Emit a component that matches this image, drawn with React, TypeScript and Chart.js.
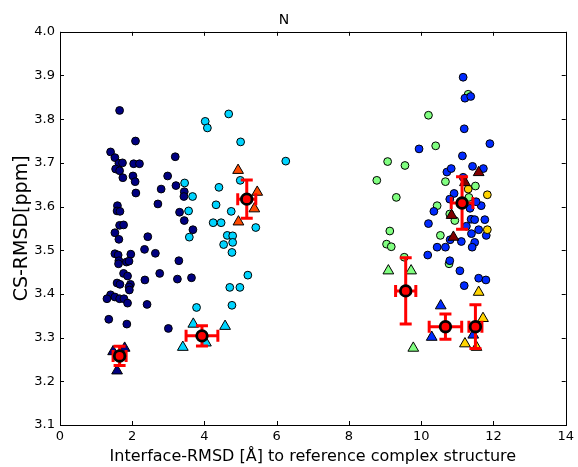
import { useEffect, useRef } from "react";
import { Chart, registerables } from "chart.js";

Chart.register(...registerables);

type P = [number, number];

const xTicks = [0, 2, 4, 6, 8, 10, 12, 14];
const yTicks = [3.1, 3.2, 3.3, 3.4, 3.5, 3.6, 3.7, 3.8, 3.9, 4.0];

const navyCircles: P[] = [
  [1.65, 3.82], [2.09, 3.75], [1.4, 3.725], [1.52, 3.712], [1.63, 3.699], [1.73, 3.7], [1.54, 3.686],
  [1.65, 3.682], [1.74, 3.666], [2.04, 3.698], [2.2, 3.698], [2.02, 3.67], [2.08, 3.657], [2.1, 3.631],
  [3.19, 3.714], [2.98, 3.67], [3.21, 3.648], [2.8, 3.64], [2.71, 3.606], [3.31, 3.587], [1.59, 3.602],
  [1.58, 3.59], [1.66, 3.589], [1.65, 3.557], [1.76, 3.558], [1.52, 3.54], [1.63, 3.525], [2.43, 3.531],
  [2.34, 3.502], [2.64, 3.493], [1.52, 3.492], [1.61, 3.489], [1.96, 3.491], [1.63, 3.476], [1.84, 3.473],
  [1.91, 3.475], [1.62, 3.469], [3.29, 3.476], [1.76, 3.447], [1.87, 3.441], [2.76, 3.447], [2.35, 3.432],
  [3.25, 3.434], [1.58, 3.425], [1.66, 3.422], [1.95, 3.422], [1.91, 3.416], [1.92, 3.409], [1.4, 3.398],
  [1.3, 3.389], [1.52, 3.393], [1.65, 3.389], [1.77, 3.389], [1.87, 3.379], [2.41, 3.376], [1.35, 3.342],
  [1.85, 3.331], [3.0, 3.321], [3.44, 3.634], [3.43, 3.623], [3.44, 3.568], [3.68, 3.547], [3.64, 3.437],
];
const navyTriangles: P[] = [[1.47, 3.268], [1.79, 3.276], [1.58, 3.224]];

const cyanCircles: P[] = [
  [4.67, 3.812], [4.02, 3.795], [4.08, 3.78], [5.0, 3.748], [6.25, 3.704], [4.99, 3.66], [3.45, 3.654],
  [4.4, 3.644], [3.67, 3.623], [4.32, 3.604], [3.56, 3.59], [4.74, 3.589], [4.24, 3.563], [4.46, 3.563],
  [5.42, 3.552], [3.58, 3.53], [4.63, 3.534], [4.78, 3.533], [4.53, 3.513], [4.78, 3.518], [4.76, 3.495],
  [5.2, 3.443], [4.7, 3.415], [4.98, 3.415], [3.78, 3.369], [4.76, 3.374],
];
const cyanTriangles: P[] = [[3.69, 3.331], [4.57, 3.326], [3.4, 3.278], [4.04, 3.288]];

const orangeTriangles: P[] = [[4.93, 3.683], [5.46, 3.633], [5.38, 3.595], [4.94, 3.565]];

const greenCircles: P[] = [
  [11.3, 3.857], [10.2, 3.809], [10.4, 3.739], [9.07, 3.703], [9.55, 3.694], [8.77, 3.66], [10.67, 3.657],
  [11.5, 3.647], [9.31, 3.621], [10.44, 3.602], [10.79, 3.583], [10.93, 3.568], [9.13, 3.544], [10.53, 3.534],
  [9.04, 3.514], [9.17, 3.508], [9.53, 3.484], [10.77, 3.469], [11.32, 3.621],
];
const greenTriangles: P[] = [[9.09, 3.453], [9.72, 3.453], [9.78, 3.276]];

const blueCircles: P[] = [
  [11.16, 3.896], [11.21, 3.848], [11.37, 3.852], [11.19, 3.778], [11.9, 3.744], [9.94, 3.732], [11.14, 3.716],
  [10.71, 3.679], [10.83, 3.687], [11.42, 3.692], [11.72, 3.687], [11.16, 3.667], [10.91, 3.63], [10.35, 3.589],
  [10.2, 3.561], [11.66, 3.602], [11.52, 3.611], [11.38, 3.571], [11.48, 3.57], [11.76, 3.57], [11.59, 3.547],
  [11.8, 3.534], [11.39, 3.538], [11.48, 3.518], [11.41, 3.507], [11.11, 3.52], [10.8, 3.524], [10.44, 3.507],
  [10.67, 3.507], [10.18, 3.489], [10.79, 3.476], [11.07, 3.453], [11.59, 3.436], [11.79, 3.432], [11.19, 3.419],
  [11.25, 3.555], [11.35, 3.596], [10.79, 3.617],
];
const blueTriangles: P[] = [[10.54, 3.373], [10.29, 3.301], [11.44, 3.306]];

const goldCircles: P[] = [[11.83, 3.627], [11.3, 3.64], [11.83, 3.547]];
const goldTriangles: P[] = [[11.59, 3.404], [11.71, 3.344], [11.21, 3.286], [11.53, 3.278]];

const darkRedTriangles: P[] = [[11.59, 3.678], [10.84, 3.58], [10.89, 3.53], [11.21, 3.655]];

const meanX = [1.65, 3.93, 5.17, 9.57, 10.67, 11.5, 11.13];
const meanY = [3.258, 3.304, 3.617, 3.407, 3.325, 3.325, 3.608];
const meanXErr = [0.18, 0.44, 0.25, 0.28, 0.45, 0.18, 0.3];
const meanYErr = [0.022, 0.023, 0.044, 0.076, 0.029, 0.05, 0.06];

const FONT = "'DejaVu Sans', sans-serif";

const toPts = (arr: P[]) => arr.map(([x, y]) => ({ x, y }));

const errorBarPlugin = {
  id: "errorBars",
  beforeDatasetDraw(chart: any, args: any) {
    const ds = chart.data.datasets[args.index];
    if (ds.label !== "means") return;
    const { ctx, scales } = chart;
    const xs = scales.x;
    const ys = scales.y;
    const cap = 6;
    ctx.save();
    ctx.strokeStyle = "#ff0000";
    ctx.lineWidth = 3;
    ctx.lineCap = "butt";
    for (let i = 0; i < meanX.length; i++) {
      const cx = xs.getPixelForValue(meanX[i]);
      const cy = ys.getPixelForValue(meanY[i]);
      const x0 = xs.getPixelForValue(meanX[i] - meanXErr[i]);
      const x1 = xs.getPixelForValue(meanX[i] + meanXErr[i]);
      const y0 = ys.getPixelForValue(meanY[i] - meanYErr[i]);
      const y1 = ys.getPixelForValue(meanY[i] + meanYErr[i]);
      ctx.beginPath();
      ctx.moveTo(x0, cy); ctx.lineTo(x1, cy);
      ctx.moveTo(x0, cy - cap); ctx.lineTo(x0, cy + cap);
      ctx.moveTo(x1, cy - cap); ctx.lineTo(x1, cy + cap);
      ctx.moveTo(cx, y0); ctx.lineTo(cx, y1);
      ctx.moveTo(cx - cap, y0); ctx.lineTo(cx + cap, y0);
      ctx.moveTo(cx - cap, y1); ctx.lineTo(cx + cap, y1);
      ctx.stroke();
    }
    ctx.restore();
  },
};

const framePlugin = {
  id: "frame",
  afterDraw(chart: any) {
    const { ctx, chartArea, scales } = chart;
    const { left, right, top, bottom } = chartArea;
    const tl = 4;
    ctx.save();
    ctx.strokeStyle = "#000";
    ctx.lineWidth = 1;
    ctx.beginPath();
    for (const v of xTicks) {
      const px = Math.round(scales.x.getPixelForValue(v)) + 0.5;
      ctx.moveTo(px, bottom); ctx.lineTo(px, bottom - tl);
      ctx.moveTo(px, top); ctx.lineTo(px, top + tl);
    }
    for (const v of yTicks) {
      const py = Math.round(scales.y.getPixelForValue(v)) + 0.5;
      ctx.moveTo(left, py); ctx.lineTo(left + tl, py);
      ctx.moveTo(right, py); ctx.lineTo(right - tl, py);
    }
    ctx.stroke();
    ctx.strokeRect(Math.round(left) + 0.5, Math.round(top) + 0.5, Math.round(right - left), Math.round(bottom - top));
    ctx.restore();
  },
};

export default function App() {
  const ref = useRef<HTMLCanvasElement | null>(null);
  useEffect(() => {
    if (!ref.current) return;
    const circle = (label: string, data: P[], color: string, order: number) => ({
      label, data: toPts(data), pointStyle: "circle", pointRadius: 3.9, pointHoverRadius: 3.9,
      backgroundColor: color, borderColor: "#000", borderWidth: 1, pointBorderWidth: 1, showLine: false, order,
    });
    const tri = (label: string, data: P[], color: string, order: number) => ({
      label, data: toPts(data), pointStyle: "triangle", pointRadius: 6.2, pointHoverRadius: 6.2,
      backgroundColor: color, borderColor: "#000", borderWidth: 1, pointBorderWidth: 1, showLine: false, order,
    });
    const navy = "#000080", cyan = "#00d4ff", orange = "#ff4a00", green = "#80ff80",
      blue = "#002aff", gold = "#ffd400", darkRed = "#800000";
    const list: any[] = [
      ["c", "navy circles", navyCircles, navy],
      ["t", "navy triangles", navyTriangles, navy],
      ["c", "cyan circles", cyanCircles, cyan],
      ["t", "cyan triangles", cyanTriangles, cyan],
      ["t", "orange triangles", orangeTriangles, orange],
      ["c", "green circles", greenCircles, green],
      ["t", "green triangles", greenTriangles, green],
      ["c", "blue circles", blueCircles, blue],
      ["t", "blue triangles", blueTriangles, blue],
      ["c", "gold circles", goldCircles, gold],
      ["t", "gold triangles", goldTriangles, gold],
      ["t", "dark red triangles", darkRedTriangles, darkRed],
    ];
    const n = list.length + 1;
    const datasets: any[] = list.map((d, i) =>
      d[0] === "c" ? circle(d[1], d[2], d[3], n - i) : tri(d[1], d[2], d[3], n - i)
    );
    datasets.push({
      label: "means",
      data: meanX.map((x, i) => ({ x, y: meanY[i] })),
      pointStyle: "circle", pointRadius: 5.3, pointHoverRadius: 5.3,
      backgroundColor: "#ff0000", borderColor: "#000", borderWidth: 2.8, pointBorderWidth: 2.8,
      showLine: false, order: 0,
    });

    const chart = new Chart(ref.current, {
      type: "scatter",
      data: { datasets },
      plugins: [errorBarPlugin, framePlugin],
      options: {
        animation: false,
        responsive: false,
        devicePixelRatio: 1,
        events: [],
        layout: { padding: { left: 0, right: 10, top: 0, bottom: 0 } },
        plugins: {
          legend: { display: false },
          tooltip: { enabled: false },
          title: {
            display: true, text: "N", color: "#000",
            font: { family: FONT, size: 14, weight: "normal" },
            padding: { top: 12, bottom: 3 },
          },
        },
        scales: {
          x: {
            type: "linear", min: 0, max: 14,
            afterFit: (s: any) => { s.height = 42; },
            afterBuildTicks: (s: any) => { s.ticks = xTicks.map((v) => ({ value: v })); },
            ticks: {
              color: "#000", font: { family: FONT, size: 13 }, padding: 4,
              callback: (v: any) => String(v), maxRotation: 0,
            },
            grid: { display: false, drawTicks: false },
            border: { display: false },
            title: {
              display: true, text: "Interface-RMSD [Å] to reference complex structure", color: "#000",
              font: { family: FONT, size: 16 }, padding: { top: 0, bottom: 1 },
            },
          },
          y: {
            type: "linear", min: 3.1, max: 4.0,
            afterFit: (s: any) => { s.width = 60; },
            afterBuildTicks: (s: any) => { s.ticks = yTicks.map((v) => ({ value: v })); },
            ticks: {
              color: "#000", font: { family: FONT, size: 13 }, padding: 5,
              callback: (v: any) => Number(v).toFixed(1),
            },
            grid: { display: false, drawTicks: false },
            border: { display: false },
            title: {
              display: true, text: "CS-RMSD[ppm]", color: "#000",
              font: { family: FONT, size: 19 }, padding: { top: 10.5, bottom: 0 },
            },
          },
        },
      } as any,
    });
    return () => chart.destroy();
  }, []);

  return (
    <div style={{ position: "absolute", left: 0, top: 0, width: 578, height: 467, background: "#fff" }}>
      <canvas ref={ref} width={578} height={467} style={{ display: "block" }} />
    </div>
  );
}
